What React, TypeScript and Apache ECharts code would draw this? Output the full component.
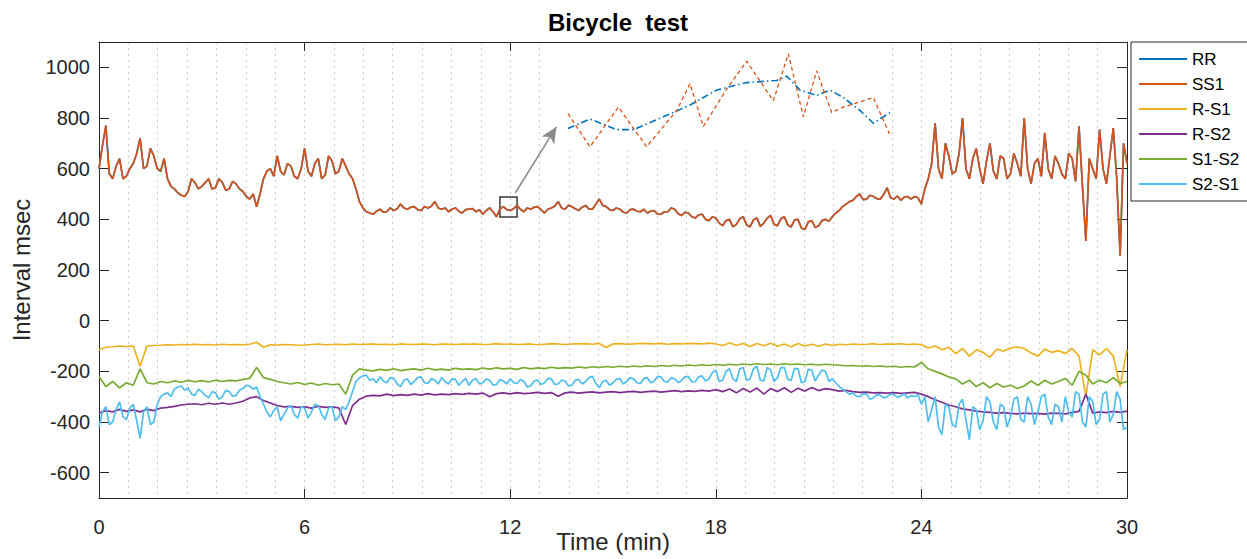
import React, { useEffect, useRef } from "react";
import * as echarts from "echarts";

// sampling steps of the traces (minutes)
const FINE_STEP = 0.1; // SS1, RR, S2-S1
const BASE_STEP = 0.2; // R-S1, R-S2, S1-S2
const xTicks = [0, 6, 12, 18, 24, 30];
const yTicks = [-600, -400, -200, 0, 200, 400, 600, 800, 1000];
const seriesNames = ["RR", "SS1", "R-S1", "R-S2", "S1-S2", "S2-S1"];
const seriesColors = ["#0072BD", "#D95319", "#EDB120", "#7E2F8E", "#77AC30", "#4DBEEE"];

const ss1 = [
  600, 690, 770, 580, 560, 610, 640, 560, 570, 600,
  620, 660, 720, 600, 610, 680, 650, 600, 590, 640,
  560, 530, 520, 505, 495, 490, 510, 560, 545, 520,
  530, 545, 560, 520, 525, 560, 545, 515, 520, 550,
  540, 520, 510, 490, 480, 500, 450, 500, 560, 590,
  600, 570, 650, 590, 575, 620, 610, 570, 560, 600,
  680, 590, 570, 620, 640, 560, 575, 650, 630, 580,
  590, 640, 610, 580, 560, 520, 470, 445, 430, 425,
  420, 432, 440, 428, 430, 445, 435, 442, 460, 445,
  440, 448, 450, 438, 435, 450, 445, 452, 470, 445,
  440, 445, 430, 440, 445, 432, 425, 438, 440, 442,
  430, 438, 420, 435, 445, 430, 410, 440, 450, 438,
  435, 442, 455, 440, 430, 445, 440, 448, 450, 438,
  425, 440, 445, 452, 470, 445, 440, 455, 450, 442,
  435, 448, 455, 440, 440, 460, 480, 455, 450, 438,
  435, 445, 440, 428, 425, 438, 440, 432, 430, 440,
  425, 432, 435, 420, 420, 430, 430, 445, 440, 422,
  415, 428, 425, 410, 405, 418, 420, 400, 395, 410,
  405, 385, 375, 395, 400, 370, 380, 402, 410, 378,
  370, 398, 405, 372, 385, 405, 415, 380, 375, 402,
  410, 378, 370, 398, 400, 365, 360, 390, 395, 368,
  375, 395, 400, 392, 410, 425, 435, 450, 460, 470,
  475, 490, 500, 478, 480, 495, 490, 482, 480, 498,
  525, 485, 480, 492, 475, 488, 490, 480, 490, 485,
  460, 520, 560, 620, 780, 600, 560, 700, 650, 580,
  590, 660, 800, 600, 560, 640, 680, 600, 540, 630,
  700, 590, 560, 650, 640, 560, 580, 660, 620, 570,
  800, 600, 540, 620, 640, 570, 741, 600, 560, 650,
  620, 580, 560, 660, 640, 550, 767, 530, 315, 640,
  600, 560, 754, 600, 540, 650, 760, 560, 256, 700,
  620,
];
// RR coincides with SS1 at this scale (it is hidden beneath it in the picture)
const rr = [...ss1];
const rs1 = [
  -115, -105, -103, -100, -102, -100, -180, -100, -98, -97,
  -95, -96, -94, -95, -93, -95, -94, -96, -93, -95,
  -94, -95, -93, -85, -105, -95, -96, -94, -95, -97,
  -96, -94, -92, -95, -94, -93, -95, -92, -94, -93,
  -92, -94, -93, -95, -92, -93, -94, -92, -93, -95,
  -92, -93, -94, -92, -93, -92, -94, -93, -91, -93,
  -92, -94, -93, -92, -95, -93, -91, -92, -94, -92,
  -92, -91, -93, -90, -106, -92, -91, -93, -92, -90,
  -91, -92, -90, -93, -91, -92, -90, -91, -92, -89,
  -92, -98, -88, -97, -90, -102, -90, -99, -89, -101,
  -92, -103, -90, -100, -93, -101, -92, -98, -93, -95,
  -92, -94, -93, -91, -94, -92, -93, -91, -94, -92,
  -95, -108, -100, -115, -105, -130, -110, -140, -115, -125,
  -145, -112, -120, -108, -104, -110, -128, -140, -112, -125,
  -118, -130, -110, -140, -300, -115, -135, -110, -140, -260,
  -115,
];
const rs2 = [
  -365, -355, -360, -350, -358, -352, -360, -350, -355, -345,
  -342, -338, -333, -330, -328, -332, -326, -330, -325, -330,
  -325, -318, -305, -300, -315, -325, -335, -340, -338, -342,
  -340, -345, -338, -342, -340, -344, -410, -335, -310, -298,
  -295, -297, -290, -296, -292, -295, -290, -294, -288, -293,
  -290, -292, -288, -291, -287, -290, -286, -300, -288, -285,
  -289, -284, -288, -286, -283, -287, -284, -298, -285, -282,
  -286, -283, -281, -285, -282, -280, -284, -281, -279, -283,
  -280, -278, -282, -279, -276, -280, -277, -279, -275, -278,
  -272, -280, -270, -285, -268, -282, -266, -290, -268, -280,
  -265, -283, -267, -278, -264, -276, -268, -272, -278, -275,
  -280, -283, -282, -285, -284, -286, -284, -287, -285, -283,
  -290, -300, -312, -322, -333, -340, -348, -352, -357, -360,
  -362, -365, -363, -366, -368, -365, -367, -366, -369, -365,
  -366, -368, -362, -358, -290, -365, -360, -363, -358, -362,
  -357,
];
const s1s2 = [
  -220, -260, -240, -265, -245, -255, -190, -245, -250, -240,
  -245, -238, -243, -236, -241, -237, -242, -235, -240, -236,
  -238, -232, -228, -185, -225, -232, -240, -245, -250, -244,
  -252, -246, -255, -248, -253, -250, -290, -215, -190, -195,
  -198, -192, -196, -190, -197, -193, -190, -195, -188, -194,
  -191, -195, -188, -192, -190, -193, -187, -191, -186, -190,
  -188, -192, -185, -190, -186, -189, -184, -188, -185, -187,
  -183, -186, -182, -185, -181, -184, -180, -183, -179, -182,
  -178, -181, -177, -180, -176, -179, -175, -178, -174, -177,
  -173, -176, -172, -175, -171, -174, -170, -173, -171, -174,
  -170, -173, -171, -174, -172, -175, -172, -174, -176, -178,
  -177, -180, -178, -181, -179, -182, -180, -184, -181, -183,
  -165, -190, -200, -210, -222, -230, -250, -235, -260, -245,
  -265, -248, -262, -255, -268, -258, -238, -255, -235, -250,
  -240, -228, -255, -200, -215, -250, -235, -245, -225, -248,
  -240,
];
const s2s1 = [
  -420, -360, -340, -410, -400, -350, -320, -380, -390, -345,
  -330, -395, -465, -360, -340, -410, -400, -330, -300, -290,
  -285, -300, -270, -262, -258, -275, -265, -290, -295, -270,
  -280, -295, -305, -280, -285, -310, -300, -275, -280, -298,
  -295, -275, -268, -255, -258, -270, -262, -300, -330, -360,
  -380, -355, -340, -395, -370, -345, -335, -370, -385, -340,
  -345, -385, -360, -330, -335, -370, -390, -345, -340, -395,
  -380, -340, -350, -320, -280, -240, -225, -218, -215, -235,
  -230, -245, -222, -238, -245, -225, -228, -250, -260, -235,
  -230, -252, -240, -225, -222, -245, -248, -228, -235, -250,
  -225, -240, -250, -230, -232, -255, -240, -228, -255, -235,
  -228, -250, -245, -230, -235, -255, -252, -232, -238, -250,
  -230, -245, -248, -232, -240, -262, -258, -238, -235, -252,
  -245, -228, -230, -252, -250, -235, -238, -258, -255, -235,
  -232, -250, -240, -225, -220, -248, -265, -240, -235, -255,
  -245, -232, -228, -250, -240, -225, -230, -245, -248, -228,
  -225, -245, -238, -220, -222, -240, -242, -225, -230, -244,
  -236, -222, -220, -242, -240, -222, -218, -238, -230, -205,
  -195, -240, -235, -200, -190, -230, -240, -190, -185, -235,
  -230, -190, -180, -235, -238, -185, -195, -240, -225, -185,
  -185, -232, -235, -188, -190, -245, -240, -192, -195, -238,
  -215, -195, -200, -240, -230, -245, -260, -270, -280, -290,
  -285, -298, -300, -288, -290, -310, -305, -292, -295, -305,
  -300, -290, -292, -302, -298, -288, -305, -296, -300, -292,
  -330, -300, -400, -350, -300, -420, -450, -330, -340, -410,
  -420, -330, -310, -390, -470, -340, -350, -430, -395, -300,
  -320, -400, -430, -330, -340, -420, -380, -310, -300, -390,
  -400, -300, -330, -410, -360, -300, -290, -380, -410, -330,
  -340, -400, -300, -360, -380, -280, -290, -400, -420, -300,
  -320, -410, -390, -290, -280, -400, -370, -280, -310, -430,
  -420,
];

// zoomed inset (seconds within the boxed window, msec)
const insetSs1Time = [0, 2.05, 4.69, 7.33, 10.13, 11.37, 12.61, 14.79, 16.65, 19.13, 20.53, 21.93, 23.17, 24.57, 25.65, 28.45, 30];
const insetSs1 = [434, 403, 440, 403, 437, 462, 422, 457, 483, 446, 490, 431, 474, 435, 440, 449, 414];
const insetRrTime = [0, 2.05, 4.53, 6.09, 8.88, 11.37, 13.85, 15.41, 16.65, 19.44, 20.38, 21.62, 23.17, 24.41, 25.65, 27.21, 28.45, 30];
const insetRr = [420, 429, 419, 419, 431, 442, 456, 460, 463, 465, 469, 456, 451, 456, 449, 437, 425, 435];

// annotation: zoom box and arrow (data coordinates)
const zoomBoxFrom = [11.7, 409];
const zoomBoxTo = [12.2, 488];
const arrowFrom = [12.15, 505];
const arrowTo = [13.35, 765];

const FONT = "'Liberation Sans', Arial, Helvetica, sans-serif";
const AXIS = "#262626";

const toPairs = (arr: number[], step: number) =>
  arr.map((v, i) => [Math.round(i * step * 100) / 100, v]);
const zip = (xs: number[], ys: number[]) => xs.map((x, i) => [x, ys[i]]);

export default function App() {
  const ref = useRef<HTMLDivElement>(null);
  useEffect(() => {
    if (!ref.current) return;
    const chart = echarts.init(ref.current, undefined, { renderer: "svg" });
    const gridLine = { color: "#cdcdcd", width: 1, type: [2, 4] as any };
    const mainData = [rr, ss1, rs1, rs2, s1s2, s2s1];
    const steps = [FINE_STEP, FINE_STEP, BASE_STEP, BASE_STEP, BASE_STEP, FINE_STEP];
    const mainSeries: any[] = mainData.map((d, k) => ({
      name: seriesNames[k],
      type: "line",
      xAxisIndex: 0,
      yAxisIndex: 0,
      data: toPairs(d, steps[k]),
      showSymbol: false,
      symbol: "none",
      lineStyle: { width: 1.7, color: seriesColors[k] },
      itemStyle: { color: seriesColors[k] },
      emphasis: { disabled: true },
    }));
    mainSeries[1].markArea = {
      silent: true,
      itemStyle: { color: "rgba(0,0,0,0)", borderColor: "#3a3a3a", borderWidth: 1.5 },
      label: { show: false },
      data: [[{ coord: zoomBoxFrom }, { coord: zoomBoxTo }]],
    };
    mainSeries[1].markLine = {
      silent: true,
      symbol: ["none", "arrow"],
      symbolSize: [11, 16],
      label: { show: false },
      lineStyle: { color: "#8a8a8a", width: 1.5, type: "solid" },
      data: [[{ coord: arrowFrom }, { coord: arrowTo }]],
    };
    const insetSeries = [
      {
        name: "RR",
        type: "line",
        xAxisIndex: 2,
        yAxisIndex: 2,
        data: zip(insetRrTime, insetRr),
        showSymbol: false,
        symbol: "none",
        z: 3,
        lineStyle: { width: 1.6, color: seriesColors[0], type: [7, 3, 1.5, 3] },
        itemStyle: { color: seriesColors[0] },
      },
      {
        name: "SS1",
        type: "line",
        xAxisIndex: 2,
        yAxisIndex: 2,
        data: zip(insetSs1Time, insetSs1),
        showSymbol: false,
        symbol: "none",
        z: 3,
        lineStyle: { width: 1.3, color: seriesColors[1], type: [4, 3] },
        itemStyle: { color: seriesColors[1] },
      },
    ];
    const tickLabel = { fontSize: 20, color: AXIS, fontFamily: FONT };
    const option: any = {
      animation: false,
      backgroundColor: "#ffffff",
      textStyle: { fontFamily: FONT },
      title: {
        text: "Bicycle  test",
        left: 613,
        top: 5,
        textAlign: "center",
        textStyle: { fontSize: 24, fontWeight: "bold", color: "#000", fontFamily: FONT },
      },
      legend: {
        orient: "vertical",
        left: 1131,
        top: 42,
        padding: [8, 60, 8, 8],
        itemWidth: 48,
        itemHeight: 2,
        itemGap: 7,
        icon: "rect",
        data: seriesNames,
        selectedMode: false,
        borderColor: AXIS,
        borderWidth: 1,
        borderRadius: 0,
        backgroundColor: "#fff",
        textStyle: { fontSize: 17, color: "#000", lineHeight: 18, fontFamily: FONT },
      },
      grid: [
        { left: 99, top: 42, width: 1028, height: 456, containLabel: false, outerBoundsMode: "none" },
        {
          left: 568, top: 43, width: 322, height: 107, show: true, backgroundColor: "#fff",
          borderWidth: 0, z: 1, containLabel: false, outerBoundsMode: "none",
        },
      ],
      xAxis: [
        {
          gridIndex: 0,
          type: "value",
          min: 0,
          max: 30,
          interval: 6,
          position: "bottom",
          name: "Time (min)",
          nameLocation: "middle",
          nameGap: 31,
          nameMoveOverlap: false,
          nameTextStyle: { fontSize: 24, color: AXIS, fontFamily: FONT },
          axisLine: { show: true, onZero: false, lineStyle: { color: AXIS, width: 1 } },
          axisTick: { show: true, inside: true, length: 9, lineStyle: { color: AXIS } },
          axisLabel: { ...tickLabel, margin: 19, customValues: xTicks },
          splitLine: { show: true, lineStyle: gridLine },
          minorTick: { show: false, splitNumber: 7 },
          minorSplitLine: { show: true, lineStyle: gridLine },
        },
        {
          gridIndex: 0,
          type: "value",
          min: 0,
          max: 30,
          interval: 6,
          position: "top",
          axisLine: { show: true, onZero: false, lineStyle: { color: AXIS, width: 1 } },
          axisTick: { show: true, inside: true, length: 9, lineStyle: { color: AXIS } },
          axisLabel: { show: false },
          splitLine: { show: false },
        },
        { gridIndex: 1, type: "value", min: 0, max: 30, show: false },
      ],
      yAxis: [
        {
          gridIndex: 0,
          type: "value",
          min: -700,
          max: 1100,
          position: "left",
          name: "Interval msec",
          nameLocation: "middle",
          nameGap: 66,
          nameMoveOverlap: false,
          nameTextStyle: { fontSize: 24, color: AXIS, fontFamily: FONT },
          axisLine: { show: true, onZero: false, lineStyle: { color: AXIS, width: 1 } },
          axisTick: { show: true, inside: true, length: 10, customValues: yTicks, lineStyle: { color: AXIS } },
          axisLabel: { ...tickLabel, margin: 9, customValues: yTicks, formatter: (v: number) => String(v) },
          splitLine: { show: false },
        },
        {
          gridIndex: 0,
          type: "value",
          min: -700,
          max: 1100,
          position: "right",
          axisLine: { show: true, onZero: false, lineStyle: { color: AXIS, width: 1 } },
          axisTick: { show: true, inside: true, length: 10, customValues: yTicks, lineStyle: { color: AXIS } },
          axisLabel: { show: false },
          splitLine: { show: false },
        },
        { gridIndex: 1, type: "value", min: 400, max: 500, show: false },
      ],
      series: [...mainSeries, ...insetSeries],
    };
    chart.setOption(option);
    return () => chart.dispose();
  }, []);
  return (
    <div
      ref={ref}
      style={{ position: "absolute", left: 0, top: 0, width: 1247, height: 559, background: "#fff" }}
    />
  );
}
